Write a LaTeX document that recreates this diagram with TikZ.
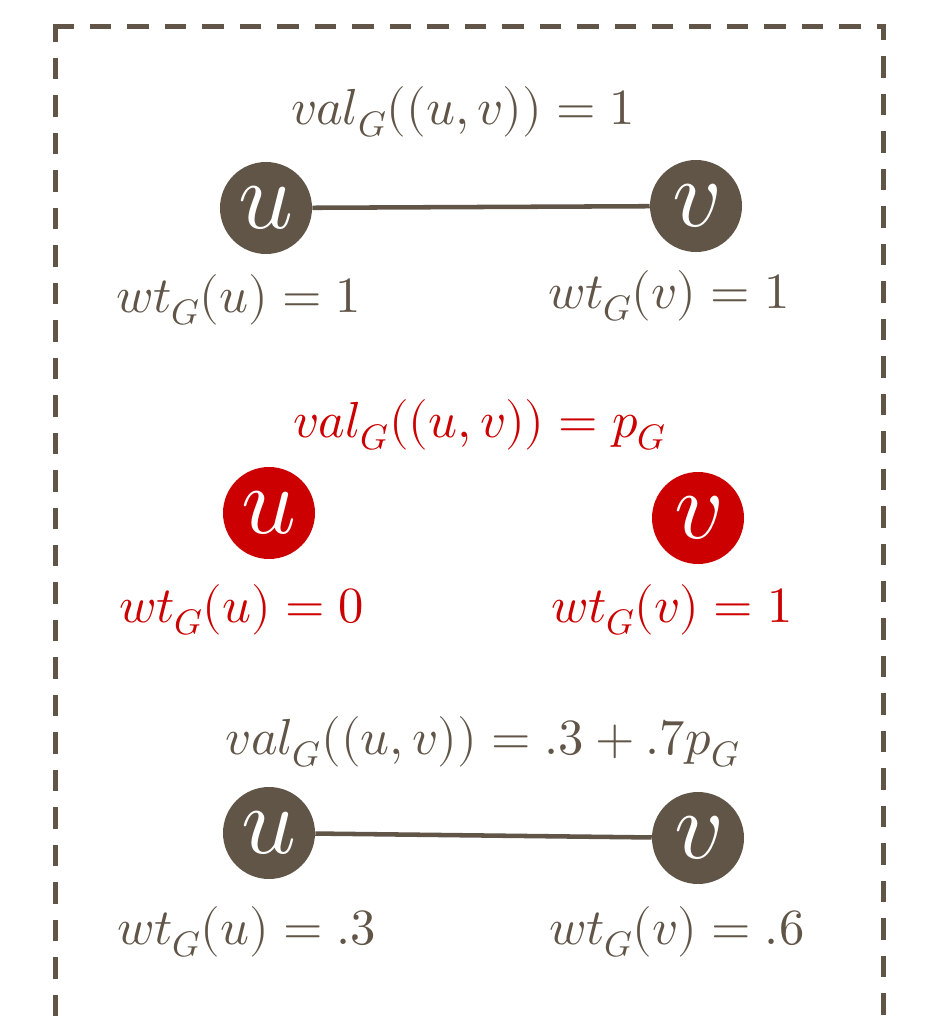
\documentclass[tikz,border=0pt]{standalone}
\usepackage{amsmath}
\usepackage{unicode-math}
\usepackage{tikz}
\usepackage{xcolor}
\usetikzlibrary{positioning,calc}

\definecolor{earth}{HTML}{615548}
\definecolor{alert}{HTML}{CC0000}

\begin{document}
\begin{tikzpicture}[
    x=0.75pt, y=-0.75pt,
    vertex/.style={circle, fill=earth, minimum size=69pt, inner sep=0pt, text=white, font=\fontsize{72}{72}\selectfont},
    lbl/.style={text=earth, font=\fontsize{38}{42}\selectfont, inner sep=0pt},
    edge/.style={draw=earth, line width=3.4pt},
    frame/.style={draw=earth, line width=3.75pt, dash pattern=on 16.1pt off 12pt}
]
    \useasboundingbox (0,0) rectangle (925,1023);

    % Frame (open at the bottom)
    \coordinate (tl) at (52.5,27);
    \coordinate (tr) at (885.5,27);
    \coordinate (ltop) at (55,27);
    \coordinate (rtop) at (883,27);
    \coordinate (bl) at (55,1030);
    \coordinate (br) at (883,1030);
    \draw[frame] (tl) -- (tr);
    \draw[frame, dash phase=4.9pt] (ltop) -- (bl);
    \draw[frame, dash phase=6pt] (rtop) -- (br);

    % Case 1: edge kept
    \node[lbl] (val1) at (463,112) {$val_G((u,v))=1$};
    \node[vertex] (u1) at (266,208) {$u$};
    \node[vertex] (v1) at (696,206) {$v$};
    \draw[edge] (u1) -- (v1);
    \node[lbl] (wu1) at (239,300) {$wt_G(u)=1$};
    \node[lbl] (wv1) at (669,296) {$wt_G(v)=1$};

    % Case 2: edge removed
    \node[lbl, text=alert] (val2) at (480,425) {$val_G((u,v))=p_G$};
    \node[vertex, fill=alert] (u2) at (269,513) {$u$};
    \node[vertex, fill=alert] (v2) at (698,518) {$v$};
    \node[lbl, text=alert] (wu2) at (242,610) {$wt_G(u)=0$};
    \node[lbl, text=alert] (wv2) at (672,610) {$wt_G(v)=1$};

    % Case 3: fractional weights
    \node[lbl] (val3) at (483,742) {$val_G((u,v))=.3+.7p_G$};
    \node[vertex] (u3) at (269,833) {$u$};
    \node[vertex] (v3) at (698,838) {$v$};
    \draw[edge] (u3) -- (v3);
    \node[lbl] (wu3) at (247,932) {$wt_G(u)=.3$};
    \node[lbl] (wv3) at (677,932) {$wt_G(v)=.6$};
\end{tikzpicture}
\end{document}
